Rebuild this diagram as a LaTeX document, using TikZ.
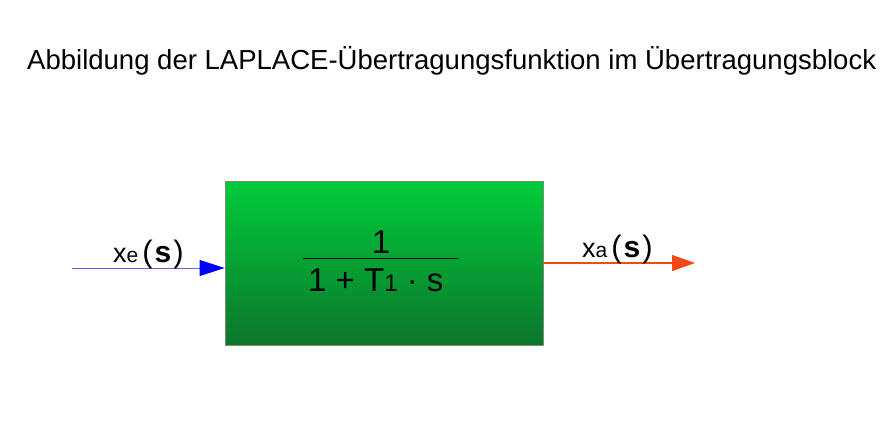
\documentclass[tikz,border=0pt]{standalone}
\usepackage{fontspec}
\setmainfont{Liberation Sans}
\usetikzlibrary{arrows.meta}
\definecolor{blockTop}{RGB}{0,204,58}
\definecolor{blockBot}{RGB}{12,118,44}
\definecolor{blockRim}{RGB}{120,140,120}
\definecolor{inLine}{RGB}{100,100,240}
\definecolor{inTip}{RGB}{0,0,255}
\definecolor{outRed}{RGB}{245,72,20}
\tikzset{
  block/.style={draw=blockRim, line width=0.8pt, top color=blockTop, bottom color=blockBot,
    minimum width=318pt, minimum height=164pt, inner sep=0pt},
  signal/.style={font=\fontsize{27}{30}\selectfont, anchor=base west, inner sep=0pt},
  blocktext/.style={font=\fontsize{33}{36}\selectfont, inner sep=0pt}
}
\newcommand{\sigtxt}[1]{x{\fontsize{21}{22}\selectfont #1}\hspace{4pt}{\fontsize{31}{32}\selectfont(\hspace{2pt}}{\fontsize{30}{32}\selectfont\textbf{s}}{\fontsize{31}{32}\selectfont\hspace{2pt})}}
\begin{document}
\begin{tikzpicture}[x=1pt,y=-1pt]
\useasboundingbox (0,0) rectangle (893,444);
% title
\node[anchor=base west, inner sep=0pt] (title) at (27,70) {\resizebox{849pt}{!}{\fontsize{27}{30}\selectfont Abbildung der LAPLACE-Übertragungsfunktion im Übertragungsblock}};
% block with the transfer function
\node[block] (blk) at (384,263) {};
\node[blocktext, anchor=base] (num) at (381,253) {1};
\node[blocktext, anchor=base west] (den) at (308,291) {1 + T{\fontsize{24}{26}\selectfont 1} · s};
\coordinate (barL) at (303,258);
\coordinate (barR) at (458,258);
\draw[line width=0.8pt] (barL) -- (barR);
% input and output signals
\coordinate (in) at (72,268);
\coordinate (out) at (695,263);
\draw[inLine, line width=1pt, -{Triangle[length=25pt, width=16pt, color=inTip]}] (in) -- (blk.west |- in);
\draw[outRed, line width=1.2pt, -{Triangle[length=23pt, width=16pt]}] (blk.east |- out) -- (out);
\node[signal] (xe) at (113,262) {\sigtxt{e}};
\node[signal] (xa) at (582,257) {\sigtxt{a}};
\end{tikzpicture}
\end{document}
